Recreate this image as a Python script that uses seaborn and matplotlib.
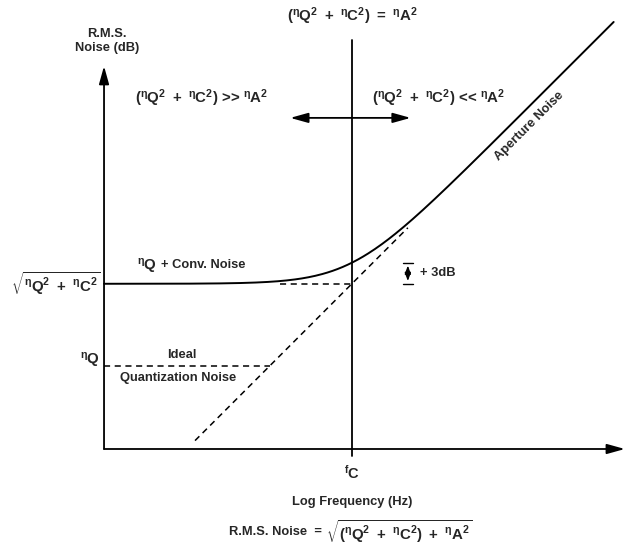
import numpy as np
import matplotlib
matplotlib.use("Agg")
import matplotlib.pyplot as plt
import seaborn as sns

# schematic values: x = log frequency (decades from the y axis), y = R.M.S. noise (dB)
f_c = 1.77                # corner frequency f_C
qc_level_db = 23.6        # sqrt(nQ^2 + nC^2)
q_level_db = 11.9         # ideal quantization noise nQ
aperture_slope = 20.0     # aperture noise, dB per decade
curve_end = 3.64          # where the drawn aperture noise stops
diag_range = [0.65, 2.17] # dashed aperture asymptote
flat_dash_start = 1.26    # dashed continuation of the flat level
region_arrow = [1.33, 2.19]
three_db = 3.0

sns.set_theme(style="white")
plt.rcParams['font.family'] = ['Liberation Sans', 'DejaVu Sans']
plt.rcParams['font.weight'] = 'bold'
plt.rcParams['mathtext.fontset'] = 'custom'
plt.rcParams['mathtext.rm'] = 'Liberation Sans:bold'
plt.rcParams['mathtext.bf'] = 'Liberation Sans:bold'
plt.rcParams['mathtext.it'] = 'Liberation Sans'

def aperture(x):
    return qc_level_db + aperture_slope * (np.asarray(x) - f_c)

def eta(sub, sq=True):
    # small eta in front of a large bold letter, optional square
    s = r'{}^{\eta}\mathrm{' + sub + '}'
    return s + (r'{}^{2}' if sq else '')

# total noise = sqrt((nQ^2 + nC^2) + nA^2), expressed in dB
log_f = np.linspace(0, curve_end, 300)
total_db = 10 * np.log10(10 ** (qc_level_db / 10) + 10 ** (aperture(log_f) / 10))

fig = plt.figure(figsize=(6.32, 5.47), dpi=100)
ax = fig.add_axes([0, 0, 1, 1])
ax.set_xlim(-0.743, 3.771)
ax.set_ylim(-14, 64.14)
ax.axis('off')

# axes with arrows
arrow = dict(arrowstyle='-|>,head_length=0.9,head_width=0.25', color='black', lw=1.3,
             shrinkA=0, shrinkB=0)
ax.annotate('', xy=(0, 54.7), xytext=(0, 0), arrowprops=arrow)
ax.annotate('', xy=(3.72, 0), xytext=(0, 0), arrowprops=arrow)

# f_C divider and the double arrow
ax.plot([f_c, f_c], [-1, 58.4], color='black', lw=1.3)
ax.annotate('', xy=(region_arrow[0], 47.3), xytext=(f_c, 47.3), arrowprops=arrow)
ax.annotate('', xy=(region_arrow[1], 47.3), xytext=(f_c, 47.3), arrowprops=arrow)

# dashed asymptotes
sns.lineplot(x=diag_range, y=aperture(diag_range), color='black', lw=1.1,
             linestyle=(0, (4, 3)), ax=ax)
sns.lineplot(x=[flat_dash_start, f_c], y=[qc_level_db, qc_level_db], color='black', lw=1.1,
             linestyle=(0, (4, 3)), ax=ax)
q_cross = f_c + (q_level_db - qc_level_db) / aperture_slope
sns.lineplot(x=[0, q_cross], y=[q_level_db, q_level_db], color='black', lw=1.1,
             linestyle=(0, (4, 3)), ax=ax)

# total noise curve
sns.lineplot(x=log_f, y=total_db, color='black', lw=1.4, ax=ax)

# +3dB marker
x3 = diag_range[1]
small = dict(arrowstyle='-|>,head_length=0.4,head_width=0.15', color='black', lw=1)
ax.annotate('', xy=(x3, qc_level_db + three_db), xytext=(x3, qc_level_db + three_db / 2), arrowprops=small)
ax.annotate('', xy=(x3, qc_level_db), xytext=(x3, qc_level_db + three_db / 2), arrowprops=small)
for yy in [qc_level_db, qc_level_db + three_db]:
    ax.plot([x3 - 0.035, x3 + 0.035], [yy, yy], color='black', lw=1)

fs = 9.3
fm = 10.8
ax.text(x3 + 0.09, qc_level_db + three_db / 2, '+ 3dB', fontsize=fs, va='center', ha='left')

sumqc = eta('Q') + r'\ +\ ' + eta('C')
ax.text(0.02, 58.3, 'R.M.S.\nNoise (dB)', fontsize=fs, ha='center', va='center', linespacing=1.3)
ax.text(f_c, 61.8, '$(' + sumqc + r')\ =\ ' + eta('A') + '$', fontsize=fm, ha='center', va='center')
ax.text(1.17, 50.1, '$(' + sumqc + ')$ >> $' + eta('A') + '$', fontsize=fm, ha='right', va='center')
ax.text(1.914, 50.1, '$(' + sumqc + ')$ << $' + eta('A') + '$', fontsize=fm, ha='left', va='center')
ax.text(-0.03, qc_level_db, r'$\sqrt{' + sumqc + '}$', fontsize=fm, ha='right', va='center')
ax.text(-0.03, 12.6, '$' + eta('Q', False) + '$', fontsize=fm, ha='right', va='center')
ax.text(0.379, 26.1, '$' + eta('Q', False) + '$', fontsize=fm, ha='right', va='center')
ax.text(0.407, 26.3, '+ Conv. Noise', fontsize=fs, ha='left', va='center')
ax.text(0.557, 13.4, 'Ideal', fontsize=fs, ha='center', va='center')
ax.text(0.53, 10.1, 'Quantization Noise', fontsize=fs, ha='center', va='center')
ax.text(3.04, 46.1, 'Aperture Noise', fontsize=fs, ha='center', va='center', rotation=45,
        rotation_mode='anchor')
ax.text(f_c, -3.4, r'${}^{f}\mathrm{C}$', fontsize=10.5, ha='center', va='center')
ax.text(f_c, -7.57, 'Log Frequency (Hz)', fontsize=fs, ha='center', va='center')
ax.text(1.557, -11.86, 'R.M.S. Noise  =', fontsize=fs, ha='right', va='center')
ax.text(1.586, -11.86, r'$\sqrt{(' + sumqc + r')\ +\ ' + eta('A') + '}$',
        fontsize=fm, ha='left', va='center')

fig.savefig('out.png', dpi=100)
